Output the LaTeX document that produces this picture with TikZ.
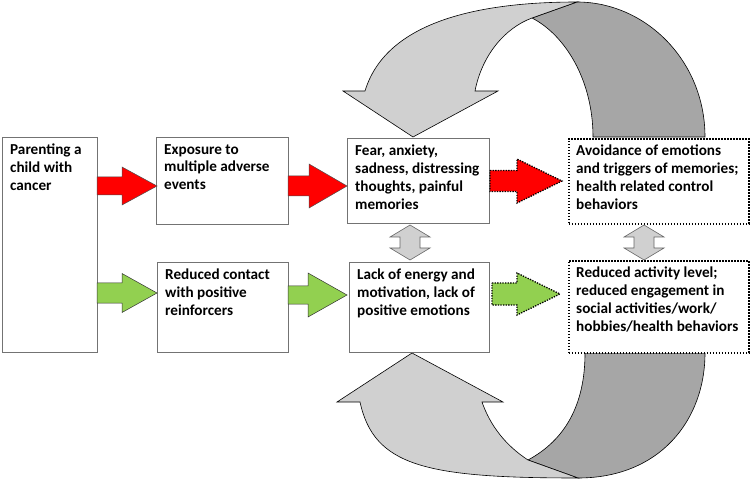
\documentclass[tikz,border=0pt]{standalone}
\usepackage{fontspec}
\setmainfont{Carlito}

\definecolor{hotred}{RGB}{255,0,0}
\definecolor{leafgreen}{RGB}{146,208,80}
\definecolor{bandlight}{RGB}{208,208,208}
\definecolor{banddark}{RGB}{166,166,166}

% block arrow: style, tail x, head start x, tip x, centre y, half shaft, half head
\newcommand{\blockarrow}[7]{%
  \filldraw[#1] (#2,#5-#6) -- (#3,#5-#6) -- (#3,#5-#7) -- (#4,#5)
    -- (#3,#5+#7) -- (#3,#5+#6) -- (#2,#5+#6) -- cycle;}

% two-headed vertical arrow: centre x, top y, bottom y
\newcommand{\twowayarrow}[3]{%
  \filldraw[twoway] (#1,#2) -- (#1+20,#2+12) -- (#1+10,#2+12) -- (#1+10,#3-12)
    -- (#1+20,#3-12) -- (#1,#3) -- (#1-20,#3-12) -- (#1-10,#3-12)
    -- (#1-10,#2+12) -- (#1-20,#2+12) -- cycle;}

\tikzset{
  box/.style={draw=black!55, line width=0.8pt, fill=white, inner sep=0pt, anchor=north west},
  dotbox/.style={draw=black, line width=1.6pt, dash pattern=on 1.6pt off 1.4pt, fill=white, inner sep=0pt, anchor=north west},
  boxtext/.style={anchor=north west, align=left, inner xsep=8pt, inner ysep=7pt,
    font=\bfseries\fontsize{15.2}{17.8}\selectfont},
  redfill/.style={fill=hotred, draw=black!70, line width=0.5pt},
  greenfill/.style={fill=leafgreen, draw=black!80, line width=0.5pt},
  reddots/.style={fill=hotred, draw=black, line width=1.3pt, dash pattern=on 1.3pt off 1.3pt},
  greendots/.style={fill=leafgreen, draw=black, line width=1.3pt, dash pattern=on 1.3pt off 1.3pt},
  twoway/.style={fill=bandlight, draw=black!60, line width=0.6pt},
  lightband/.style={fill=bandlight, draw=black, line width=0.6pt},
  darkband/.style={fill=banddark, draw=black, line width=0.6pt}
}

\begin{document}
\begin{tikzpicture}[x=1pt, y=-1pt]
\useasboundingbox (0,0) rectangle (750,481);

% loop ribbons
\filldraw[darkband] (577,2) .. controls (645,2) and (705,60) .. (705,137) -- (593,137)
  .. controls (593,80) and (565,35) .. (532,18) -- cycle;
\filldraw[lightband] (343,91) -- (365,91) .. controls (385,25) and (470,2) .. (577,2)
  -- (532,18) .. controls (505,28) and (482,55) .. (475,91) -- (498,91) -- (413,137) -- cycle;
\filldraw[darkband] (578,478) .. controls (660,478) and (705,420) .. (705,353) -- (585,353)
  .. controls (585,405) and (565,440) .. (528,460) -- cycle;
\filldraw[lightband] (337,402) -- (360,402) .. controls (374,466) and (425,478) .. (578,478)
  -- (528,460) .. controls (505,445) and (490,425) .. (482,402) -- (503,402) -- (412,353) -- cycle;

% boxes
\node[box, minimum width=95pt, minimum height=215pt] (parent) at (2,137) {};
\node[box, minimum width=132pt, minimum height=87pt] (exposure) at (156,137) {};
\node[box, minimum width=131pt, minimum height=90pt] (contact) at (157,262) {};
\node[box, minimum width=142pt, minimum height=85pt] (fear) at (347,138) {};
\node[box, minimum width=140pt, minimum height=90pt] (lack) at (349,262) {};
\node[dotbox, minimum width=180pt, minimum height=85pt] (avoid) at (568,138) {};
\node[dotbox, minimum width=180pt, minimum height=92pt] (activity) at (568,260) {};

\node[boxtext] (parenttext) at (parent.north west) {Parenting a\\child with\\cancer};
\node[boxtext] (exposuretext) at (exposure.north west) {Exposure to\\multiple adverse\\events};
\node[boxtext] (contacttext) at (contact.north west) {Reduced contact\\with positive\\reinforcers};
\node[boxtext] (feartext) at (fear.north west) {Fear, anxiety,\\sadness, distressing\\thoughts, painful\\memories};
\node[boxtext] (lacktext) at (lack.north west) {Lack of energy and\\motivation, lack of\\positive emotions};
\node[boxtext] (avoidtext) at (avoid.north west) {Avoidance of emotions\\and triggers of memories;\\health related control\\behaviors};
\node[boxtext] (activitytext) at (activity.north west) {Reduced activity level;\\reduced engagement in\\social activities/work/\\hobbies/health behaviors};

% block arrows
\blockarrow{redfill}{97}{122}{157}{186}{9}{19}
\blockarrow{redfill}{288}{309}{347}{186}{10}{22}
\blockarrow{greenfill}{97}{122}{157}{293}{10}{19.5}
\blockarrow{greenfill}{288}{308}{347}{295}{9}{22}
\blockarrow{reddots}{490}{517}{562}{181}{10.5}{22}
\blockarrow{greendots}{492}{517}{560}{294}{11}{21}

\twowayarrow{410}{225}{260}
\twowayarrow{644}{225}{260}

\end{tikzpicture}
\end{document}
